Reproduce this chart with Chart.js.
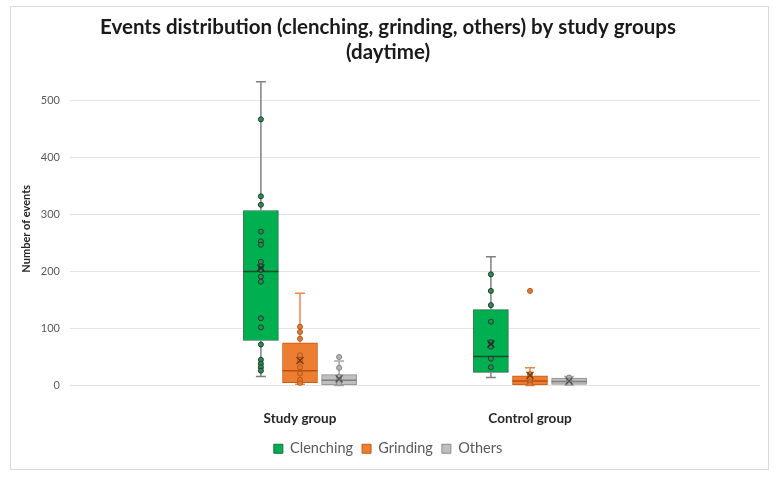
<!DOCTYPE html>
<html>
<head>
<meta charset="utf-8">
<script src="https://cdn.jsdelivr.net/npm/chart.js@4.4.1/dist/chart.umd.min.js"></script>
<style>
  html, body { margin: 0; padding: 0; background: #fff; }
  #wrap { position: relative; width: 778px; height: 483px; }
</style>
</head>
<body>
<div id="wrap"><canvas id="grafico"></canvas></div>
<script>
// Categorias (los extremos vacios dejan sitio a cada lado)
const groupLabels = ['', 'Study group', 'Control group', ''];
const seriesNames = ['Clenching', 'Grinding', 'Others'];

// Estadisticas por grupo: [min, q1, mediana, q3, max, media]
const clenchingStats = [[16, 79, 200, 307, 533, 206], [14, 23, 51, 133, 226, 73]];
const grindingStats = [[2, 5, 26, 75, 162, 44], [0, 1, 8, 17, 31, 18]];
const othersStats = [[0, 0, 9, 19, 43, 12], [1, 2, 7, 13, 16, 8]];

// Puntos individuales por grupo
const clenchingPoints = [
    [467, 332, 317, 270, 253, 247, 217, 209, 203, 191, 182, 118, 102, 72, 45, 38, 32, 26],
    [195, 166, 141, 112, 76, 68, 47, 32]
];
const grindingPoints = [[103, 94, 82, 53, 44, 32, 21, 10, 4], [166, 20, 12, 6, 2]];
const othersPoints = [[50, 31, 15, 10, 4], [14, 9, 5, 2]];

const yTicks = [0, 100, 200, 300, 400, 500];

// Colores
const fillColors = ['#00B050', '#ED7D31', '#BFBFBF'];
const borderColors = ['#1B6B3C', '#C55A11', '#8C8C8C'];
const whiskerColors = ['#808080', '#E8884A', '#A6A6A6'];
const medianColors = ['#144D2C', '#B5520F', '#7F7F7F'];
const pointFill = ['#2F8A55', '#E07A33', '#B5B5B5'];
const pointEdge = ['#1B3D2B', '#B8541A', '#808080'];
const meanColors = ['#1E2E26', '#7A3A10', '#555555'];

const allStats = [clenchingStats, grindingStats, othersStats];
const allPoints = [clenchingPoints, grindingPoints, othersPoints];

// separacion entre cajas dentro de un grupo (en unidades del eje x)
const boxStep = 0.17;

function posicionSerie(g, s) {
    return g + 1 + (s - 1) * boxStep;
}

/**
 * Fondo, marco, bigotes, mediana y media de cada caja
 */
const boxPlotPlugin = {
    id: 'boxPlot',
    beforeDraw(chart) {
        const ctx = chart.ctx;
        ctx.save();
        ctx.fillStyle = '#fff';
        ctx.fillRect(0, 0, chart.width, chart.height);
        ctx.strokeStyle = '#D9D9D9';
        ctx.lineWidth = 1;
        ctx.strokeRect(10.5, 6.5, 758, 463);
        ctx.restore();
    },
    afterDatasetDraw(chart, args) {
        const ds = chart.data.datasets[args.index];
        if (ds.serie === undefined) return;
        const s = ds.serie;
        const y = chart.scales.y;
        const ctx = chart.ctx;
        ctx.save();
        args.meta.data.forEach((el, g) => {
            const st = allStats[s][g];
            if (!st) return;
            const x = el.x;
            const half = el.width / 2;
            const cap = 5;
            const pMin = y.getPixelForValue(st[0]);
            const pQ1 = y.getPixelForValue(st[1]);
            const pMed = y.getPixelForValue(st[2]);
            const pQ3 = y.getPixelForValue(st[3]);
            const pMax = y.getPixelForValue(st[4]);

            // bigotes
            ctx.strokeStyle = whiskerColors[s];
            ctx.lineWidth = 1.5;
            ctx.beginPath();
            ctx.moveTo(x, pQ3); ctx.lineTo(x, pMax);
            ctx.moveTo(x - cap, pMax); ctx.lineTo(x + cap, pMax);
            ctx.moveTo(x, pQ1); ctx.lineTo(x, pMin);
            ctx.moveTo(x - cap, pMin); ctx.lineTo(x + cap, pMin);
            ctx.stroke();

            // mediana
            ctx.strokeStyle = medianColors[s];
            ctx.lineWidth = 1.5;
            ctx.beginPath();
            ctx.moveTo(x - half, pMed); ctx.lineTo(x + half, pMed);
            ctx.stroke();
        });
        ctx.restore();
    },
    afterDatasetsDraw(chart) {
        // media (X) por encima de los puntos
        const y = chart.scales.y;
        const ctx = chart.ctx;
        ctx.save();
        ctx.lineWidth = 1.4;
        chart.data.datasets.forEach((ds, i) => {
            if (ds.serie === undefined) return;
            const s = ds.serie;
            chart.getDatasetMeta(i).data.forEach((el, g) => {
                const st = allStats[s][g];
                if (!st) return;
                const x = el.x;
                const pMean = y.getPixelForValue(st[5]);
                ctx.strokeStyle = meanColors[s];
                ctx.beginPath();
                ctx.moveTo(x - 3.5, pMean - 3.5); ctx.lineTo(x + 3.5, pMean + 3.5);
                ctx.moveTo(x + 3.5, pMean - 3.5); ctx.lineTo(x - 3.5, pMean + 3.5);
                ctx.stroke();
            });
        });
        ctx.restore();
    }
};

// Cajas: barras flotantes [q1, q3]
const boxDatasets = seriesNames.map((name, s) => ({
    type: 'bar',
    label: name,
    serie: s,
    data: allStats[s].map((st, g) => ({ x: posicionSerie(g, s), y: [st[1], st[3]] })),
    backgroundColor: fillColors[s],
    borderColor: borderColors[s],
    borderWidth: 1,
    borderSkipped: false,
    grouped: false,
    barThickness: 35,
    order: 2
}));

// Puntos individuales sobre el centro de cada caja
const pointDatasets = seriesNames.map((name, s) => ({
    type: 'scatter',
    label: name + ' points',
    data: allPoints[s].flatMap((vals, g) => vals.map(v => ({ x: posicionSerie(g, s), y: v }))),
    backgroundColor: pointFill[s],
    borderColor: pointEdge[s],
    borderWidth: 1,
    pointRadius: 2.5,
    order: 1
}));

new Chart(document.getElementById('grafico'), {
    type: 'bar',
    data: {
        datasets: boxDatasets.concat(pointDatasets)
    },
    plugins: [boxPlotPlugin],
    options: {
        responsive: true,
        maintainAspectRatio: false,
        animation: false,
        layout: {
            padding: { top: 5, left: 16, right: 18, bottom: 17 }
        },
        plugins: {
            title: {
                display: true,
                text: ['Events distribution (clenching, grinding, others) by study groups', '(daytime)'],
                color: '#1A1A1A',
                font: { family: 'Lato', size: 20.5, weight: 'bold', lineHeight: 1.22 },
                padding: { top: 10, bottom: 7 }
            },
            legend: {
                position: 'bottom',
                labels: {
                    filter: item => item.datasetIndex < 3,
                    boxWidth: 9,
                    boxHeight: 9,
                    padding: 9,
                    color: '#595959',
                    font: { family: 'Lato', size: 14.5 }
                }
            },
            tooltip: { enabled: false }
        },
        scales: {
            x: {
                type: 'linear',
                min: 0,
                max: groupLabels.length - 1,
                offset: false,
                grid: { display: false, offset: false },
                border: { display: false },
                ticks: {
                    stepSize: 1,
                    callback: v => groupLabels[v] || '',
                    color: '#262626',
                    padding: 17,
                    maxRotation: 0,
                    font: { family: 'Lato', size: 13.5, weight: 'bold' }
                },
                afterFit: scale => { scale.height = 47; }
            },
            y: {
                min: 0,
                max: 550,
                afterBuildTicks: scale => {
                    scale.ticks = yTicks.map(v => ({ value: v }));
                },
                grid: { color: '#E3E3E3', drawTicks: false },
                border: { display: false },
                ticks: {
                    color: '#595959',
                    padding: 10,
                    font: { family: 'Lato', size: 11 }
                },
                title: {
                    display: true,
                    text: 'Number of events',
                    color: '#262626',
                    font: { family: 'Lato', size: 11, weight: 'bold' },
                    padding: { top: 4, bottom: 0 }
                },
                afterFit: scale => { scale.width = 54; }
            }
        }
    }
});
</script>
</body>
</html>
